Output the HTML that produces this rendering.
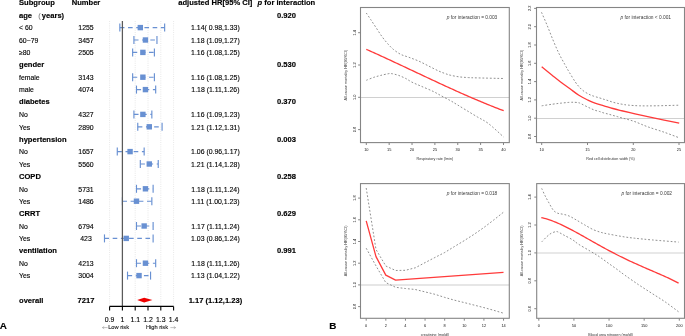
<!DOCTYPE html>
<html><head><meta charset="utf-8"><style>
html,body{margin:0;padding:0;background:#fff;width:685px;height:336px;overflow:hidden}
svg{display:block;will-change:transform;font-family:"Liberation Sans", sans-serif}
</style></head><body>
<svg width="685" height="336" viewBox="0 0 685 336" font-family='"Liberation Sans", sans-serif'>
<text transform="translate(19.00,5.10) scale(0.2500)" font-size="30.32" font-weight="bold" text-anchor="start" fill="#000" stroke="#000" stroke-width="0.6" >Subgroup</text>
<text transform="translate(86.00,5.10) scale(0.2500)" font-size="30.32" font-weight="bold" text-anchor="middle" fill="#000" stroke="#000" stroke-width="0.6" >Number</text>
<text transform="translate(215.30,5.10) scale(0.2500)" font-size="30.32" font-weight="bold" text-anchor="middle" fill="#000" stroke="#000" stroke-width="0.6" >adjusted HR[95% CI]</text>
<text transform="translate(286.4,5.10) scale(0.25)" font-size="30.32" font-weight="bold" text-anchor="middle" stroke="#000" stroke-width="0.6"><tspan font-style="italic">p</tspan> for interaction</text>
<line x1="109.60" y1="21.00" x2="109.60" y2="306.40" stroke="#d6d6d6" stroke-width="0.6" stroke-dasharray="1 1.2" />
<line x1="135.20" y1="21.00" x2="135.20" y2="306.40" stroke="#d6d6d6" stroke-width="0.6" stroke-dasharray="1 1.2" />
<line x1="148.00" y1="21.00" x2="148.00" y2="306.40" stroke="#d6d6d6" stroke-width="0.6" stroke-dasharray="1 1.2" />
<line x1="160.80" y1="21.00" x2="160.80" y2="306.40" stroke="#d6d6d6" stroke-width="0.6" stroke-dasharray="1 1.2" />
<line x1="173.60" y1="21.00" x2="173.60" y2="306.40" stroke="#d6d6d6" stroke-width="0.6" stroke-dasharray="1 1.2" />
<text transform="translate(19.00,17.50) scale(0.2500)" font-size="30.32" font-weight="bold" text-anchor="start" fill="#000" stroke="#000" stroke-width="0.6" >age</text>
<text transform="translate(38.20,17.90) scale(0.2500)" font-size="30.32" font-weight="normal" text-anchor="start" fill="#888" stroke="#888" stroke-width="0.5" >(</text>
<text transform="translate(41.80,17.50) scale(0.2500)" font-size="30.32" font-weight="bold" text-anchor="start" fill="#000" stroke="#000" stroke-width="0.6" >years)</text>
<text transform="translate(286.40,17.50) scale(0.2500)" font-size="30.32" font-weight="bold" text-anchor="middle" fill="#000" stroke="#000" stroke-width="0.6" >0.920</text>
<text transform="translate(19.00,30.30) scale(0.2500)" font-size="27.60" font-weight="normal" text-anchor="start" fill="#000" stroke="#000" stroke-width="0.5" >< 60</text>
<text transform="translate(86.00,30.30) scale(0.2500)" font-size="27.60" font-weight="normal" text-anchor="middle" fill="#000" stroke="#000" stroke-width="0.5" >1255</text>
<text transform="translate(215.40,30.30) scale(0.2500)" font-size="27.60" font-weight="normal" text-anchor="middle" fill="#000" stroke="#000" stroke-width="0.5" >1.14( 0.98,1.33)</text>
<line x1="119.84" y1="27.60" x2="164.64" y2="27.60" stroke="#6890d2" stroke-width="1.15" stroke-dasharray="4.6 3.6" />
<line x1="119.84" y1="23.60" x2="119.84" y2="31.60" stroke="#6890d2" stroke-width="1.15" />
<line x1="164.64" y1="23.60" x2="164.64" y2="31.60" stroke="#6890d2" stroke-width="1.15" />
<rect x="137.62" y="24.90" width="5.4" height="5.4" fill="#6890d2"/>
<text transform="translate(19.00,42.70) scale(0.2500)" font-size="27.60" font-weight="normal" text-anchor="start" fill="#000" stroke="#000" stroke-width="0.5" >60~79</text>
<text transform="translate(86.00,42.70) scale(0.2500)" font-size="27.60" font-weight="normal" text-anchor="middle" fill="#000" stroke="#000" stroke-width="0.5" >3457</text>
<text transform="translate(215.40,42.70) scale(0.2500)" font-size="27.60" font-weight="normal" text-anchor="middle" fill="#000" stroke="#000" stroke-width="0.5" >1.18 (1.09,1.27)</text>
<line x1="133.92" y1="40.00" x2="156.96" y2="40.00" stroke="#6890d2" stroke-width="1.15" stroke-dasharray="4.6 3.6" />
<line x1="133.92" y1="36.00" x2="133.92" y2="44.00" stroke="#6890d2" stroke-width="1.15" />
<line x1="156.96" y1="36.00" x2="156.96" y2="44.00" stroke="#6890d2" stroke-width="1.15" />
<rect x="142.74" y="37.30" width="5.4" height="5.4" fill="#6890d2"/>
<text transform="translate(19.00,55.10) scale(0.2500)" font-size="27.60" font-weight="normal" text-anchor="start" fill="#000" stroke="#000" stroke-width="0.5" >≥80</text>
<text transform="translate(86.00,55.10) scale(0.2500)" font-size="27.60" font-weight="normal" text-anchor="middle" fill="#000" stroke="#000" stroke-width="0.5" >2505</text>
<text transform="translate(215.40,55.10) scale(0.2500)" font-size="27.60" font-weight="normal" text-anchor="middle" fill="#000" stroke="#000" stroke-width="0.5" >1.16 (1.08,1.25)</text>
<line x1="132.64" y1="52.40" x2="154.40" y2="52.40" stroke="#6890d2" stroke-width="1.15" stroke-dasharray="4.6 3.6" />
<line x1="132.64" y1="48.40" x2="132.64" y2="56.40" stroke="#6890d2" stroke-width="1.15" />
<line x1="154.40" y1="48.40" x2="154.40" y2="56.40" stroke="#6890d2" stroke-width="1.15" />
<rect x="140.18" y="49.70" width="5.4" height="5.4" fill="#6890d2"/>
<text transform="translate(19.00,67.10) scale(0.2500)" font-size="30.32" font-weight="bold" text-anchor="start" fill="#000" stroke="#000" stroke-width="0.6" >gender</text>
<text transform="translate(286.40,67.10) scale(0.2500)" font-size="30.32" font-weight="bold" text-anchor="middle" fill="#000" stroke="#000" stroke-width="0.6" >0.530</text>
<text transform="translate(19.00,79.90) scale(0.2500)" font-size="27.60" font-weight="normal" text-anchor="start" fill="#000" stroke="#000" stroke-width="0.5" >female</text>
<text transform="translate(86.00,79.90) scale(0.2500)" font-size="27.60" font-weight="normal" text-anchor="middle" fill="#000" stroke="#000" stroke-width="0.5" >3143</text>
<text transform="translate(215.40,79.90) scale(0.2500)" font-size="27.60" font-weight="normal" text-anchor="middle" fill="#000" stroke="#000" stroke-width="0.5" >1.16 (1.08,1.25)</text>
<line x1="132.64" y1="77.20" x2="154.40" y2="77.20" stroke="#6890d2" stroke-width="1.15" stroke-dasharray="4.6 3.6" />
<line x1="132.64" y1="73.20" x2="132.64" y2="81.20" stroke="#6890d2" stroke-width="1.15" />
<line x1="154.40" y1="73.20" x2="154.40" y2="81.20" stroke="#6890d2" stroke-width="1.15" />
<rect x="140.18" y="74.50" width="5.4" height="5.4" fill="#6890d2"/>
<text transform="translate(19.00,92.30) scale(0.2500)" font-size="27.60" font-weight="normal" text-anchor="start" fill="#000" stroke="#000" stroke-width="0.5" >male</text>
<text transform="translate(86.00,92.30) scale(0.2500)" font-size="27.60" font-weight="normal" text-anchor="middle" fill="#000" stroke="#000" stroke-width="0.5" >4074</text>
<text transform="translate(215.40,92.30) scale(0.2500)" font-size="27.60" font-weight="normal" text-anchor="middle" fill="#000" stroke="#000" stroke-width="0.5" >1.18 (1.11,1.26)</text>
<line x1="136.48" y1="89.60" x2="155.68" y2="89.60" stroke="#6890d2" stroke-width="1.15" stroke-dasharray="4.6 3.6" />
<line x1="136.48" y1="85.60" x2="136.48" y2="93.60" stroke="#6890d2" stroke-width="1.15" />
<line x1="155.68" y1="85.60" x2="155.68" y2="93.60" stroke="#6890d2" stroke-width="1.15" />
<rect x="142.74" y="86.90" width="5.4" height="5.4" fill="#6890d2"/>
<text transform="translate(19.00,104.30) scale(0.2500)" font-size="30.32" font-weight="bold" text-anchor="start" fill="#000" stroke="#000" stroke-width="0.6" >diabetes</text>
<text transform="translate(286.40,104.30) scale(0.2500)" font-size="30.32" font-weight="bold" text-anchor="middle" fill="#000" stroke="#000" stroke-width="0.6" >0.370</text>
<text transform="translate(19.00,117.10) scale(0.2500)" font-size="27.60" font-weight="normal" text-anchor="start" fill="#000" stroke="#000" stroke-width="0.5" >No</text>
<text transform="translate(86.00,117.10) scale(0.2500)" font-size="27.60" font-weight="normal" text-anchor="middle" fill="#000" stroke="#000" stroke-width="0.5" >4327</text>
<text transform="translate(215.40,117.10) scale(0.2500)" font-size="27.60" font-weight="normal" text-anchor="middle" fill="#000" stroke="#000" stroke-width="0.5" >1.16 (1.09,1.23)</text>
<line x1="133.92" y1="114.40" x2="151.84" y2="114.40" stroke="#6890d2" stroke-width="1.15" stroke-dasharray="4.6 3.6" />
<line x1="133.92" y1="110.40" x2="133.92" y2="118.40" stroke="#6890d2" stroke-width="1.15" />
<line x1="151.84" y1="110.40" x2="151.84" y2="118.40" stroke="#6890d2" stroke-width="1.15" />
<rect x="140.18" y="111.70" width="5.4" height="5.4" fill="#6890d2"/>
<text transform="translate(19.00,129.50) scale(0.2500)" font-size="27.60" font-weight="normal" text-anchor="start" fill="#000" stroke="#000" stroke-width="0.5" >Yes</text>
<text transform="translate(86.00,129.50) scale(0.2500)" font-size="27.60" font-weight="normal" text-anchor="middle" fill="#000" stroke="#000" stroke-width="0.5" >2890</text>
<text transform="translate(215.40,129.50) scale(0.2500)" font-size="27.60" font-weight="normal" text-anchor="middle" fill="#000" stroke="#000" stroke-width="0.5" >1.21 (1.12,1.31)</text>
<line x1="137.76" y1="126.80" x2="162.08" y2="126.80" stroke="#6890d2" stroke-width="1.15" stroke-dasharray="4.6 3.6" />
<line x1="137.76" y1="122.80" x2="137.76" y2="130.80" stroke="#6890d2" stroke-width="1.15" />
<line x1="162.08" y1="122.80" x2="162.08" y2="130.80" stroke="#6890d2" stroke-width="1.15" />
<rect x="146.58" y="124.10" width="5.4" height="5.4" fill="#6890d2"/>
<text transform="translate(19.00,141.50) scale(0.2500)" font-size="30.32" font-weight="bold" text-anchor="start" fill="#000" stroke="#000" stroke-width="0.6" >hypertension</text>
<text transform="translate(286.40,141.50) scale(0.2500)" font-size="30.32" font-weight="bold" text-anchor="middle" fill="#000" stroke="#000" stroke-width="0.6" >0.003</text>
<text transform="translate(19.00,154.30) scale(0.2500)" font-size="27.60" font-weight="normal" text-anchor="start" fill="#000" stroke="#000" stroke-width="0.5" >No</text>
<text transform="translate(86.00,154.30) scale(0.2500)" font-size="27.60" font-weight="normal" text-anchor="middle" fill="#000" stroke="#000" stroke-width="0.5" >1657</text>
<text transform="translate(215.40,154.30) scale(0.2500)" font-size="27.60" font-weight="normal" text-anchor="middle" fill="#000" stroke="#000" stroke-width="0.5" >1.06 (0.96,1.17)</text>
<line x1="117.28" y1="151.60" x2="144.16" y2="151.60" stroke="#6890d2" stroke-width="1.15" stroke-dasharray="4.6 3.6" />
<line x1="117.28" y1="147.60" x2="117.28" y2="155.60" stroke="#6890d2" stroke-width="1.15" />
<line x1="144.16" y1="147.60" x2="144.16" y2="155.60" stroke="#6890d2" stroke-width="1.15" />
<rect x="127.38" y="148.90" width="5.4" height="5.4" fill="#6890d2"/>
<text transform="translate(19.00,166.70) scale(0.2500)" font-size="27.60" font-weight="normal" text-anchor="start" fill="#000" stroke="#000" stroke-width="0.5" >Yes</text>
<text transform="translate(86.00,166.70) scale(0.2500)" font-size="27.60" font-weight="normal" text-anchor="middle" fill="#000" stroke="#000" stroke-width="0.5" >5560</text>
<text transform="translate(215.40,166.70) scale(0.2500)" font-size="27.60" font-weight="normal" text-anchor="middle" fill="#000" stroke="#000" stroke-width="0.5" >1.21 (1.14,1.28)</text>
<line x1="140.32" y1="164.00" x2="158.24" y2="164.00" stroke="#6890d2" stroke-width="1.15" stroke-dasharray="4.6 3.6" />
<line x1="140.32" y1="160.00" x2="140.32" y2="168.00" stroke="#6890d2" stroke-width="1.15" />
<line x1="158.24" y1="160.00" x2="158.24" y2="168.00" stroke="#6890d2" stroke-width="1.15" />
<rect x="146.58" y="161.30" width="5.4" height="5.4" fill="#6890d2"/>
<text transform="translate(19.00,178.70) scale(0.2500)" font-size="30.32" font-weight="bold" text-anchor="start" fill="#000" stroke="#000" stroke-width="0.6" >COPD</text>
<text transform="translate(286.40,178.70) scale(0.2500)" font-size="30.32" font-weight="bold" text-anchor="middle" fill="#000" stroke="#000" stroke-width="0.6" >0.258</text>
<text transform="translate(19.00,191.50) scale(0.2500)" font-size="27.60" font-weight="normal" text-anchor="start" fill="#000" stroke="#000" stroke-width="0.5" >No</text>
<text transform="translate(86.00,191.50) scale(0.2500)" font-size="27.60" font-weight="normal" text-anchor="middle" fill="#000" stroke="#000" stroke-width="0.5" >5731</text>
<text transform="translate(215.40,191.50) scale(0.2500)" font-size="27.60" font-weight="normal" text-anchor="middle" fill="#000" stroke="#000" stroke-width="0.5" >1.18 (1.11,1.24)</text>
<line x1="136.48" y1="188.80" x2="153.12" y2="188.80" stroke="#6890d2" stroke-width="1.15" stroke-dasharray="4.6 3.6" />
<line x1="136.48" y1="184.80" x2="136.48" y2="192.80" stroke="#6890d2" stroke-width="1.15" />
<line x1="153.12" y1="184.80" x2="153.12" y2="192.80" stroke="#6890d2" stroke-width="1.15" />
<rect x="142.74" y="186.10" width="5.4" height="5.4" fill="#6890d2"/>
<text transform="translate(19.00,203.90) scale(0.2500)" font-size="27.60" font-weight="normal" text-anchor="start" fill="#000" stroke="#000" stroke-width="0.5" >Yes</text>
<text transform="translate(86.00,203.90) scale(0.2500)" font-size="27.60" font-weight="normal" text-anchor="middle" fill="#000" stroke="#000" stroke-width="0.5" >1486</text>
<text transform="translate(215.40,203.90) scale(0.2500)" font-size="27.60" font-weight="normal" text-anchor="middle" fill="#000" stroke="#000" stroke-width="0.5" >1.11 (1.00,1.23)</text>
<line x1="122.40" y1="201.20" x2="151.84" y2="201.20" stroke="#6890d2" stroke-width="1.15" stroke-dasharray="4.6 3.6" />
<line x1="122.40" y1="197.20" x2="122.40" y2="205.20" stroke="#6890d2" stroke-width="1.15" />
<line x1="151.84" y1="197.20" x2="151.84" y2="205.20" stroke="#6890d2" stroke-width="1.15" />
<rect x="133.78" y="198.50" width="5.4" height="5.4" fill="#6890d2"/>
<text transform="translate(19.00,215.90) scale(0.2500)" font-size="30.32" font-weight="bold" text-anchor="start" fill="#000" stroke="#000" stroke-width="0.6" >CRRT</text>
<text transform="translate(286.40,215.90) scale(0.2500)" font-size="30.32" font-weight="bold" text-anchor="middle" fill="#000" stroke="#000" stroke-width="0.6" >0.629</text>
<text transform="translate(19.00,228.70) scale(0.2500)" font-size="27.60" font-weight="normal" text-anchor="start" fill="#000" stroke="#000" stroke-width="0.5" >No</text>
<text transform="translate(86.00,228.70) scale(0.2500)" font-size="27.60" font-weight="normal" text-anchor="middle" fill="#000" stroke="#000" stroke-width="0.5" >6794</text>
<text transform="translate(215.40,228.70) scale(0.2500)" font-size="27.60" font-weight="normal" text-anchor="middle" fill="#000" stroke="#000" stroke-width="0.5" >1.17 (1.11,1.24)</text>
<line x1="136.48" y1="226.00" x2="153.12" y2="226.00" stroke="#6890d2" stroke-width="1.15" stroke-dasharray="4.6 3.6" />
<line x1="136.48" y1="222.00" x2="136.48" y2="230.00" stroke="#6890d2" stroke-width="1.15" />
<line x1="153.12" y1="222.00" x2="153.12" y2="230.00" stroke="#6890d2" stroke-width="1.15" />
<rect x="141.46" y="223.30" width="5.4" height="5.4" fill="#6890d2"/>
<text transform="translate(19.00,241.10) scale(0.2500)" font-size="27.60" font-weight="normal" text-anchor="start" fill="#000" stroke="#000" stroke-width="0.5" >Yes</text>
<text transform="translate(86.00,241.10) scale(0.2500)" font-size="27.60" font-weight="normal" text-anchor="middle" fill="#000" stroke="#000" stroke-width="0.5" >423</text>
<text transform="translate(215.40,241.10) scale(0.2500)" font-size="27.60" font-weight="normal" text-anchor="middle" fill="#000" stroke="#000" stroke-width="0.5" >1.03 (0.86,1.24)</text>
<line x1="104.48" y1="238.40" x2="153.12" y2="238.40" stroke="#6890d2" stroke-width="1.15" stroke-dasharray="4.6 3.6" />
<line x1="104.48" y1="234.40" x2="104.48" y2="242.40" stroke="#6890d2" stroke-width="1.15" />
<line x1="153.12" y1="234.40" x2="153.12" y2="242.40" stroke="#6890d2" stroke-width="1.15" />
<rect x="123.54" y="235.70" width="5.4" height="5.4" fill="#6890d2"/>
<text transform="translate(19.00,253.10) scale(0.2500)" font-size="30.32" font-weight="bold" text-anchor="start" fill="#000" stroke="#000" stroke-width="0.6" >ventilation</text>
<text transform="translate(286.40,253.10) scale(0.2500)" font-size="30.32" font-weight="bold" text-anchor="middle" fill="#000" stroke="#000" stroke-width="0.6" >0.991</text>
<text transform="translate(19.00,265.90) scale(0.2500)" font-size="27.60" font-weight="normal" text-anchor="start" fill="#000" stroke="#000" stroke-width="0.5" >No</text>
<text transform="translate(86.00,265.90) scale(0.2500)" font-size="27.60" font-weight="normal" text-anchor="middle" fill="#000" stroke="#000" stroke-width="0.5" >4213</text>
<text transform="translate(215.40,265.90) scale(0.2500)" font-size="27.60" font-weight="normal" text-anchor="middle" fill="#000" stroke="#000" stroke-width="0.5" >1.18 (1.11,1.26)</text>
<line x1="136.48" y1="263.20" x2="155.68" y2="263.20" stroke="#6890d2" stroke-width="1.15" stroke-dasharray="4.6 3.6" />
<line x1="136.48" y1="259.20" x2="136.48" y2="267.20" stroke="#6890d2" stroke-width="1.15" />
<line x1="155.68" y1="259.20" x2="155.68" y2="267.20" stroke="#6890d2" stroke-width="1.15" />
<rect x="142.74" y="260.50" width="5.4" height="5.4" fill="#6890d2"/>
<text transform="translate(19.00,278.30) scale(0.2500)" font-size="27.60" font-weight="normal" text-anchor="start" fill="#000" stroke="#000" stroke-width="0.5" >Yes</text>
<text transform="translate(86.00,278.30) scale(0.2500)" font-size="27.60" font-weight="normal" text-anchor="middle" fill="#000" stroke="#000" stroke-width="0.5" >3004</text>
<text transform="translate(215.40,278.30) scale(0.2500)" font-size="27.60" font-weight="normal" text-anchor="middle" fill="#000" stroke="#000" stroke-width="0.5" >1.13 (1.04,1.22)</text>
<line x1="127.52" y1="275.60" x2="150.56" y2="275.60" stroke="#6890d2" stroke-width="1.15" stroke-dasharray="4.6 3.6" />
<line x1="127.52" y1="271.60" x2="127.52" y2="279.60" stroke="#6890d2" stroke-width="1.15" />
<line x1="150.56" y1="271.60" x2="150.56" y2="279.60" stroke="#6890d2" stroke-width="1.15" />
<rect x="136.34" y="272.90" width="5.4" height="5.4" fill="#6890d2"/>
<text transform="translate(19.00,302.70) scale(0.2500)" font-size="30.32" font-weight="bold" text-anchor="start" fill="#000" stroke="#000" stroke-width="0.6" >overall</text>
<text transform="translate(86.00,302.70) scale(0.2500)" font-size="30.32" font-weight="bold" text-anchor="middle" fill="#000" stroke="#000" stroke-width="0.6" >7217</text>
<text transform="translate(215.40,302.70) scale(0.2500)" font-size="30.32" font-weight="bold" text-anchor="middle" fill="#000" stroke="#000" stroke-width="0.6" >1.17 (1.12,1.23)</text>
<polygon points="137.16,300.10 144.16,297.80 152.44,300.10 144.16,302.40" fill="#ee0000"/>
<line x1="122.40" y1="21.00" x2="122.40" y2="306.40" stroke="#5a5a5a" stroke-width="1.25" />
<line x1="109.60" y1="306.40" x2="173.60" y2="306.40" stroke="#000" stroke-width="1.1" />
<line x1="109.60" y1="306.40" x2="109.60" y2="310.40" stroke="#000" stroke-width="1.1" />
<text transform="translate(109.60,321.80) scale(0.2500)" font-size="27.60" font-weight="normal" text-anchor="middle" fill="#000" stroke="#000" stroke-width="0.5" >0.9</text>
<line x1="122.40" y1="306.40" x2="122.40" y2="310.40" stroke="#000" stroke-width="1.1" />
<text transform="translate(122.40,321.80) scale(0.2500)" font-size="27.60" font-weight="normal" text-anchor="middle" fill="#000" stroke="#000" stroke-width="0.5" >1</text>
<line x1="135.20" y1="306.40" x2="135.20" y2="310.40" stroke="#000" stroke-width="1.1" />
<text transform="translate(135.20,321.80) scale(0.2500)" font-size="27.60" font-weight="normal" text-anchor="middle" fill="#000" stroke="#000" stroke-width="0.5" >1.1</text>
<line x1="148.00" y1="306.40" x2="148.00" y2="310.40" stroke="#000" stroke-width="1.1" />
<text transform="translate(148.00,321.80) scale(0.2500)" font-size="27.60" font-weight="normal" text-anchor="middle" fill="#000" stroke="#000" stroke-width="0.5" >1.2</text>
<line x1="160.80" y1="306.40" x2="160.80" y2="310.40" stroke="#000" stroke-width="1.1" />
<text transform="translate(160.80,321.80) scale(0.2500)" font-size="27.60" font-weight="normal" text-anchor="middle" fill="#000" stroke="#000" stroke-width="0.5" >1.3</text>
<line x1="173.60" y1="306.40" x2="173.60" y2="310.40" stroke="#000" stroke-width="1.1" />
<text transform="translate(173.60,321.80) scale(0.2500)" font-size="27.60" font-weight="normal" text-anchor="middle" fill="#000" stroke="#000" stroke-width="0.5" >1.4</text>
<text transform="translate(108.20,329.30) scale(0.2500)" font-size="22.80" font-weight="normal" text-anchor="start" fill="#222" stroke="#222" stroke-width="0.5" >Low risk</text>
<text transform="translate(145.90,329.30) scale(0.2500)" font-size="22.80" font-weight="normal" text-anchor="start" fill="#222" stroke="#222" stroke-width="0.5" >High risk</text>
<line x1="102.40" y1="327.60" x2="107.60" y2="327.60" stroke="#999" stroke-width="0.6" />
<path d="M104.2,326.4 L102.4,327.6 L104.2,328.8" fill="none" stroke="#999" stroke-width="0.6"/>
<line x1="170.40" y1="327.60" x2="175.60" y2="327.60" stroke="#999" stroke-width="0.6" />
<path d="M173.8,326.4 L175.6,327.6 L173.8,328.8" fill="none" stroke="#999" stroke-width="0.6"/>
<text transform="translate(-0.20,329.00) scale(0.2500)" font-size="39.60" font-weight="bold" text-anchor="start" fill="#000" stroke="#000" stroke-width="0.6" >A</text>
<text transform="translate(329.30,329.20) scale(0.2500)" font-size="39.60" font-weight="bold" text-anchor="start" fill="#000" stroke="#000" stroke-width="0.6" >B</text>
<line x1="360.50" y1="97.50" x2="509.30" y2="97.50" stroke="#d0d0d0" stroke-width="1.0" />
<path d="M366.30,13.00 C367.02,14.07 368.93,16.90 370.60,19.40 C372.27,21.90 374.40,25.13 376.30,28.00 C378.20,30.87 380.10,33.98 382.00,36.60 C383.90,39.22 385.80,41.57 387.70,43.70 C389.60,45.83 391.25,47.63 393.40,49.40 C395.55,51.17 398.02,52.98 400.60,54.30 C403.18,55.62 405.88,56.17 408.90,57.30 C411.92,58.43 415.47,59.65 418.75,61.10 C422.03,62.55 425.33,64.37 428.60,66.00 C431.88,67.63 435.67,69.65 438.40,70.90 C441.13,72.15 442.95,72.77 445.00,73.50 C447.05,74.23 448.27,74.73 450.70,75.30 C453.13,75.87 456.62,76.52 459.60,76.90 C462.58,77.28 465.65,77.43 468.60,77.60 C471.55,77.77 471.47,77.75 477.30,77.90 C483.13,78.05 499.22,78.40 503.60,78.50" fill="none" stroke="#838383" stroke-width="0.9" stroke-dasharray="1.8 1.9"/>
<path d="M366.30,80.30 C367.52,79.82 371.19,78.22 373.60,77.40 C376.01,76.58 378.37,76.00 380.75,75.40 C383.13,74.80 386.11,74.10 387.90,73.80 C389.69,73.50 389.72,73.33 391.50,73.60 C393.28,73.87 396.23,74.58 398.60,75.40 C400.98,76.22 403.52,77.37 405.75,78.50 C407.98,79.63 409.48,80.93 412.00,82.20 C414.52,83.47 417.42,84.58 420.90,86.10 C424.38,87.62 429.42,89.63 432.90,91.30 C436.38,92.97 438.83,94.52 441.80,96.10 C444.77,97.68 448.17,99.38 450.70,100.80 C453.23,102.22 454.42,103.03 457.00,104.60 C459.58,106.17 462.82,108.15 466.20,110.20 C469.58,112.25 473.58,114.67 477.30,116.90 C481.02,119.13 484.12,120.25 488.50,123.60 C492.88,126.95 501.08,134.77 503.60,137.00" fill="none" stroke="#838383" stroke-width="0.9" stroke-dasharray="1.8 1.9"/>
<path d="M366.30,49.34 L367.79,50.01 L369.29,50.67 L370.78,51.34 L372.27,52.01 L373.77,52.68 L375.26,53.36 L376.75,54.03 L378.25,54.71 L379.74,55.39 L381.23,56.07 L382.73,56.76 L384.22,57.44 L385.72,58.13 L387.21,58.82 L388.70,59.51 L390.20,60.20 L391.69,60.90 L393.18,61.59 L394.68,62.29 L396.17,62.98 L397.66,63.68 L399.16,64.38 L400.65,65.08 L402.14,65.78 L403.64,66.48 L405.13,67.18 L406.62,67.88 L408.12,68.59 L409.61,69.29 L411.10,69.99 L412.60,70.70 L414.09,71.40 L415.58,72.10 L417.08,72.81 L418.57,73.51 L420.07,74.21 L421.56,74.91 L423.05,75.62 L424.55,76.32 L426.04,77.02 L427.53,77.72 L429.03,78.42 L430.52,79.12 L432.01,79.82 L433.51,80.51 L435.00,81.21 L436.49,81.90 L437.99,82.60 L439.48,83.29 L440.97,83.98 L442.47,84.67 L443.96,85.36 L445.45,86.05 L446.95,86.73 L448.44,87.42 L449.93,88.10 L451.43,88.78 L452.92,89.45 L454.42,90.13 L455.91,90.80 L457.40,91.47 L458.90,92.14 L460.39,92.81 L461.88,93.47 L463.38,94.13 L464.87,94.79 L466.36,95.45 L467.86,96.10 L469.35,96.75 L470.84,97.40 L472.34,98.04 L473.83,98.68 L475.32,99.32 L476.82,99.95 L478.31,100.59 L479.80,101.21 L481.30,101.84 L482.79,102.46 L484.28,103.07 L485.78,103.69 L487.27,104.30 L488.77,104.90 L490.26,105.50 L491.75,106.10 L493.25,106.69 L494.74,107.28 L496.23,107.87 L497.73,108.45 L499.22,109.02 L500.71,109.59 L502.21,110.16 L503.70,110.72" fill="none" stroke="#ff3a3a" stroke-width="1.3" stroke-linejoin="round"/>
<rect x="360.5" y="7.5" width="148.8" height="135.1" fill="none" stroke="#858585" stroke-width="1.1"/>
<line x1="366.30" y1="143.00" x2="366.30" y2="145.00" stroke="#666" stroke-width="0.8" />
<text transform="translate(366.30,151.10) scale(0.2500)" font-size="15.60" font-weight="normal" text-anchor="middle" fill="#111" >10</text>
<line x1="389.17" y1="143.00" x2="389.17" y2="145.00" stroke="#666" stroke-width="0.8" />
<text transform="translate(389.17,151.10) scale(0.2500)" font-size="15.60" font-weight="normal" text-anchor="middle" fill="#111" >15</text>
<line x1="412.03" y1="143.00" x2="412.03" y2="145.00" stroke="#666" stroke-width="0.8" />
<text transform="translate(412.03,151.10) scale(0.2500)" font-size="15.60" font-weight="normal" text-anchor="middle" fill="#111" >20</text>
<line x1="434.89" y1="143.00" x2="434.89" y2="145.00" stroke="#666" stroke-width="0.8" />
<text transform="translate(434.89,151.10) scale(0.2500)" font-size="15.60" font-weight="normal" text-anchor="middle" fill="#111" >25</text>
<line x1="457.76" y1="143.00" x2="457.76" y2="145.00" stroke="#666" stroke-width="0.8" />
<text transform="translate(457.76,151.10) scale(0.2500)" font-size="15.60" font-weight="normal" text-anchor="middle" fill="#111" >30</text>
<line x1="480.62" y1="143.00" x2="480.62" y2="145.00" stroke="#666" stroke-width="0.8" />
<text transform="translate(480.62,151.10) scale(0.2500)" font-size="15.60" font-weight="normal" text-anchor="middle" fill="#111" >35</text>
<line x1="503.49" y1="143.00" x2="503.49" y2="145.00" stroke="#666" stroke-width="0.8" />
<text transform="translate(503.49,151.10) scale(0.2500)" font-size="15.60" font-weight="normal" text-anchor="middle" fill="#111" >40</text>
<line x1="358.10" y1="129.60" x2="360.10" y2="129.60" stroke="#666" stroke-width="0.8" />
<text transform="translate(355.70,129.60) rotate(-90) scale(0.25)" font-size="15.6" text-anchor="middle" fill="#111">0.8</text>
<line x1="358.10" y1="97.30" x2="360.10" y2="97.30" stroke="#666" stroke-width="0.8" />
<text transform="translate(355.70,97.30) rotate(-90) scale(0.25)" font-size="15.6" text-anchor="middle" fill="#111">1.0</text>
<line x1="358.10" y1="65.00" x2="360.10" y2="65.00" stroke="#666" stroke-width="0.8" />
<text transform="translate(355.70,65.00) rotate(-90) scale(0.25)" font-size="15.6" text-anchor="middle" fill="#111">1.2</text>
<line x1="358.10" y1="32.70" x2="360.10" y2="32.70" stroke="#666" stroke-width="0.8" />
<text transform="translate(355.70,32.70) rotate(-90) scale(0.25)" font-size="15.6" text-anchor="middle" fill="#111">1.4</text>
<text transform="translate(434.90,159.80) scale(0.2500)" font-size="14.80" font-weight="normal" text-anchor="middle" fill="#333" >Respiratory rate (/min)</text>
<text transform="translate(347.00,75.05) rotate(-90) scale(0.25)" font-size="15.04" text-anchor="middle" fill="#333">All-cause mortality HR(95%CI)</text>
<text transform="translate(497.30,18.80) scale(0.25)" font-size="19.2" text-anchor="end" fill="#3a3a3a"><tspan font-style="italic">p</tspan> for interaction = 0.003</text>
<line x1="536.50" y1="118.50" x2="684.50" y2="118.50" stroke="#d0d0d0" stroke-width="1.0" />
<path d="M541.50,12.30 C542.42,14.42 545.08,20.38 547.00,25.00 C548.92,29.62 551.02,35.27 553.00,40.00 C554.98,44.73 556.92,49.30 558.90,53.40 C560.88,57.50 563.17,61.45 564.90,64.60 C566.63,67.75 567.55,69.38 569.30,72.30 C571.05,75.22 573.80,79.72 575.40,82.10 C577.00,84.48 577.72,85.25 578.90,86.60 C580.08,87.95 581.00,89.01 582.50,90.20 C584.00,91.39 586.12,92.78 587.90,93.75 C589.68,94.72 591.27,95.31 593.20,96.00 C595.13,96.69 597.72,97.35 599.50,97.90 C601.28,98.45 602.42,98.83 603.90,99.30 C605.38,99.77 606.90,100.22 608.40,100.70 C609.90,101.18 611.42,101.77 612.90,102.20 C614.38,102.63 615.82,102.97 617.30,103.30 C618.78,103.63 620.02,103.90 621.80,104.20 C623.58,104.50 625.05,104.83 628.00,105.10 C630.95,105.37 634.85,105.68 639.50,105.80 C644.15,105.92 649.28,105.90 655.90,105.80 C662.52,105.70 675.32,105.30 679.20,105.20" fill="none" stroke="#838383" stroke-width="0.9" stroke-dasharray="1.8 1.9"/>
<path d="M541.70,105.80 C543.48,105.53 549.25,104.63 552.40,104.20 C555.55,103.77 557.87,103.50 560.60,103.20 C563.33,102.90 566.48,102.55 568.80,102.40 C571.12,102.25 572.82,102.23 574.50,102.30 C576.18,102.37 577.72,102.52 578.90,102.80 C580.08,103.08 580.28,103.37 581.60,104.00 C582.92,104.63 585.27,105.85 586.80,106.60 C588.33,107.35 589.43,107.88 590.80,108.50 C592.17,109.12 593.55,109.80 595.00,110.30 C596.45,110.80 598.02,111.05 599.50,111.50 C600.98,111.95 602.42,112.57 603.90,113.00 C605.38,113.43 606.90,113.70 608.40,114.10 C609.90,114.50 611.42,114.98 612.90,115.40 C614.38,115.82 615.82,116.18 617.30,116.60 C618.78,117.02 620.31,117.49 621.80,117.90 C623.29,118.31 624.05,118.42 626.25,119.05 C628.45,119.68 631.42,120.41 635.00,121.70 C638.58,122.99 642.85,125.05 647.70,126.80 C652.55,128.55 658.85,130.37 664.10,132.20 C669.35,134.03 676.68,136.87 679.20,137.80" fill="none" stroke="#838383" stroke-width="0.9" stroke-dasharray="1.8 1.9"/>
<path d="M541.70,66.80 C543.48,68.25 549.25,72.97 552.40,75.50 C555.55,78.03 557.67,79.78 560.60,82.00 C563.53,84.22 566.95,86.58 570.00,88.80 C573.05,91.02 575.92,93.42 578.90,95.30 C581.88,97.18 585.22,98.78 587.90,100.10 C590.58,101.42 592.33,102.25 595.00,103.20 C597.67,104.15 600.92,104.92 603.90,105.80 C606.88,106.68 609.92,107.67 612.90,108.50 C615.88,109.33 618.12,109.85 621.80,110.75 C625.48,111.65 630.68,112.91 635.00,113.90 C639.32,114.89 642.85,115.67 647.70,116.70 C652.55,117.73 658.85,119.02 664.10,120.10 C669.35,121.18 676.68,122.68 679.20,123.20" fill="none" stroke="#ff3a3a" stroke-width="1.3" stroke-linejoin="round"/>
<rect x="536.5" y="7.5" width="148.0" height="135.1" fill="none" stroke="#858585" stroke-width="1.1"/>
<line x1="541.70" y1="143.00" x2="541.70" y2="145.00" stroke="#666" stroke-width="0.8" />
<text transform="translate(541.70,151.10) scale(0.2500)" font-size="15.60" font-weight="normal" text-anchor="middle" fill="#111" >10</text>
<line x1="587.50" y1="143.00" x2="587.50" y2="145.00" stroke="#666" stroke-width="0.8" />
<text transform="translate(587.50,151.10) scale(0.2500)" font-size="15.60" font-weight="normal" text-anchor="middle" fill="#111" >15</text>
<line x1="633.30" y1="143.00" x2="633.30" y2="145.00" stroke="#666" stroke-width="0.8" />
<text transform="translate(633.30,151.10) scale(0.2500)" font-size="15.60" font-weight="normal" text-anchor="middle" fill="#111" >20</text>
<line x1="679.00" y1="143.00" x2="679.00" y2="145.00" stroke="#666" stroke-width="0.8" />
<text transform="translate(679.00,151.10) scale(0.2500)" font-size="15.60" font-weight="normal" text-anchor="middle" fill="#111" >25</text>
<line x1="534.10" y1="136.50" x2="536.10" y2="136.50" stroke="#666" stroke-width="0.8" />
<text transform="translate(530.70,136.50) rotate(-90) scale(0.25)" font-size="15.6" text-anchor="middle" fill="#111">0.8</text>
<line x1="534.10" y1="118.20" x2="536.10" y2="118.20" stroke="#666" stroke-width="0.8" />
<text transform="translate(530.70,118.20) rotate(-90) scale(0.25)" font-size="15.6" text-anchor="middle" fill="#111">1.0</text>
<line x1="534.10" y1="99.90" x2="536.10" y2="99.90" stroke="#666" stroke-width="0.8" />
<text transform="translate(530.70,99.90) rotate(-90) scale(0.25)" font-size="15.6" text-anchor="middle" fill="#111">1.2</text>
<line x1="534.10" y1="81.60" x2="536.10" y2="81.60" stroke="#666" stroke-width="0.8" />
<text transform="translate(530.70,81.60) rotate(-90) scale(0.25)" font-size="15.6" text-anchor="middle" fill="#111">1.4</text>
<line x1="534.10" y1="63.30" x2="536.10" y2="63.30" stroke="#666" stroke-width="0.8" />
<text transform="translate(530.70,63.30) rotate(-90) scale(0.25)" font-size="15.6" text-anchor="middle" fill="#111">1.6</text>
<line x1="534.10" y1="45.00" x2="536.10" y2="45.00" stroke="#666" stroke-width="0.8" />
<text transform="translate(530.70,45.00) rotate(-90) scale(0.25)" font-size="15.6" text-anchor="middle" fill="#111">1.8</text>
<line x1="534.10" y1="26.70" x2="536.10" y2="26.70" stroke="#666" stroke-width="0.8" />
<text transform="translate(530.70,26.70) rotate(-90) scale(0.25)" font-size="15.6" text-anchor="middle" fill="#111">2.0</text>
<line x1="534.10" y1="8.40" x2="536.10" y2="8.40" stroke="#666" stroke-width="0.8" />
<text transform="translate(530.70,8.40) rotate(-90) scale(0.25)" font-size="15.6" text-anchor="middle" fill="#111">2.2</text>
<text transform="translate(610.50,159.80) scale(0.2500)" font-size="14.80" font-weight="normal" text-anchor="middle" fill="#333" >Red cell distribution width (%)</text>
<text transform="translate(523.00,75.05) rotate(-90) scale(0.25)" font-size="15.04" text-anchor="middle" fill="#333">All-cause mortality HR(95%CI)</text>
<text transform="translate(671.00,18.80) scale(0.25)" font-size="19.2" text-anchor="end" fill="#3a3a3a"><tspan font-style="italic">p</tspan> for interaction &lt; 0.001</text>
<line x1="360.50" y1="285.00" x2="509.30" y2="285.00" stroke="#e6e6e6" stroke-width="2.0" />
<path d="M366.20,188.00 L376.00,249.50 L385.80,266.00 L395.60,270.50 L405.40,270.30 L415.30,267.80 L425.10,262.60 L434.90,257.50 L444.70,252.50 L454.50,246.50 L464.30,240.60 L474.10,234.30 L483.90,227.50 L493.70,220.00 L503.50,212.20" fill="none" stroke="#838383" stroke-width="0.9" stroke-dasharray="1.8 1.9"/>
<path d="M366.20,248.20 L376.00,265.90 L385.80,282.60 L395.60,287.30 L405.40,288.50 L415.30,289.50 L425.10,291.90 L434.90,294.30 L444.70,297.40 L454.50,300.20 L464.30,302.60 L474.10,305.10 L483.90,307.60 L493.70,310.30 L503.50,313.20" fill="none" stroke="#838383" stroke-width="0.9" stroke-dasharray="1.8 1.9"/>
<path d="M366.20,220.90 L376.00,256.60 L385.80,275.10 L395.60,280.20 L503.50,272.40" fill="none" stroke="#ff3a3a" stroke-width="1.3" stroke-linejoin="round"/>
<rect x="360.5" y="183.6" width="148.8" height="134.70000000000002" fill="none" stroke="#858585" stroke-width="1.1"/>
<line x1="366.20" y1="318.70" x2="366.20" y2="320.70" stroke="#666" stroke-width="0.8" />
<text transform="translate(366.20,326.80) scale(0.2500)" font-size="15.60" font-weight="normal" text-anchor="middle" fill="#111" >0</text>
<line x1="385.82" y1="318.70" x2="385.82" y2="320.70" stroke="#666" stroke-width="0.8" />
<text transform="translate(385.82,326.80) scale(0.2500)" font-size="15.60" font-weight="normal" text-anchor="middle" fill="#111" >2</text>
<line x1="405.44" y1="318.70" x2="405.44" y2="320.70" stroke="#666" stroke-width="0.8" />
<text transform="translate(405.44,326.80) scale(0.2500)" font-size="15.60" font-weight="normal" text-anchor="middle" fill="#111" >4</text>
<line x1="425.06" y1="318.70" x2="425.06" y2="320.70" stroke="#666" stroke-width="0.8" />
<text transform="translate(425.06,326.80) scale(0.2500)" font-size="15.60" font-weight="normal" text-anchor="middle" fill="#111" >6</text>
<line x1="444.68" y1="318.70" x2="444.68" y2="320.70" stroke="#666" stroke-width="0.8" />
<text transform="translate(444.68,326.80) scale(0.2500)" font-size="15.60" font-weight="normal" text-anchor="middle" fill="#111" >8</text>
<line x1="464.30" y1="318.70" x2="464.30" y2="320.70" stroke="#666" stroke-width="0.8" />
<text transform="translate(464.30,326.80) scale(0.2500)" font-size="15.60" font-weight="normal" text-anchor="middle" fill="#111" >10</text>
<line x1="483.92" y1="318.70" x2="483.92" y2="320.70" stroke="#666" stroke-width="0.8" />
<text transform="translate(483.92,326.80) scale(0.2500)" font-size="15.60" font-weight="normal" text-anchor="middle" fill="#111" >12</text>
<line x1="503.54" y1="318.70" x2="503.54" y2="320.70" stroke="#666" stroke-width="0.8" />
<text transform="translate(503.54,326.80) scale(0.2500)" font-size="15.60" font-weight="normal" text-anchor="middle" fill="#111" >14</text>
<line x1="358.10" y1="306.60" x2="360.10" y2="306.60" stroke="#666" stroke-width="0.8" />
<text transform="translate(355.70,306.60) rotate(-90) scale(0.25)" font-size="15.6" text-anchor="middle" fill="#111">0.8</text>
<line x1="358.10" y1="284.90" x2="360.10" y2="284.90" stroke="#666" stroke-width="0.8" />
<text transform="translate(355.70,284.90) rotate(-90) scale(0.25)" font-size="15.6" text-anchor="middle" fill="#111">1.0</text>
<line x1="358.10" y1="263.20" x2="360.10" y2="263.20" stroke="#666" stroke-width="0.8" />
<text transform="translate(355.70,263.20) rotate(-90) scale(0.25)" font-size="15.6" text-anchor="middle" fill="#111">1.2</text>
<line x1="358.10" y1="241.50" x2="360.10" y2="241.50" stroke="#666" stroke-width="0.8" />
<text transform="translate(355.70,241.50) rotate(-90) scale(0.25)" font-size="15.6" text-anchor="middle" fill="#111">1.4</text>
<line x1="358.10" y1="219.80" x2="360.10" y2="219.80" stroke="#666" stroke-width="0.8" />
<text transform="translate(355.70,219.80) rotate(-90) scale(0.25)" font-size="15.6" text-anchor="middle" fill="#111">1.6</text>
<line x1="358.10" y1="198.10" x2="360.10" y2="198.10" stroke="#666" stroke-width="0.8" />
<text transform="translate(355.70,198.10) rotate(-90) scale(0.25)" font-size="15.6" text-anchor="middle" fill="#111">1.8</text>
<text transform="translate(434.90,335.50) scale(0.2500)" font-size="14.80" font-weight="normal" text-anchor="middle" fill="#333" >creatinine (mg/dl)</text>
<text transform="translate(347.00,250.95) rotate(-90) scale(0.25)" font-size="15.04" text-anchor="middle" fill="#333">All-cause mortality HR(95%CI)</text>
<text transform="translate(497.30,194.90) scale(0.25)" font-size="19.2" text-anchor="end" fill="#3a3a3a"><tspan font-style="italic">p</tspan> for interaction = 0.018</text>
<line x1="536.70" y1="253.00" x2="684.50" y2="253.00" stroke="#e8e8e8" stroke-width="2.0" />
<path d="M541.70,188.40 C542.23,189.57 543.77,193.12 544.90,195.40 C546.03,197.68 547.30,199.93 548.50,202.10 C549.70,204.27 551.13,206.88 552.10,208.40 C553.07,209.93 553.33,210.43 554.30,211.25 C555.27,212.07 556.78,212.86 557.90,213.30 C559.02,213.74 559.88,213.68 561.00,213.90 C562.12,214.12 563.42,214.32 564.60,214.60 C565.78,214.88 566.92,215.15 568.10,215.60 C569.28,216.05 570.58,216.72 571.70,217.30 C572.82,217.88 573.77,218.50 574.80,219.10 C575.83,219.70 576.28,219.95 577.90,220.90 C579.52,221.85 581.92,223.33 584.50,224.80 C587.08,226.27 590.52,228.40 593.40,229.70 C596.28,231.00 599.38,231.90 601.80,232.60 C604.22,233.30 605.40,233.40 607.90,233.90 C610.40,234.40 613.83,235.07 616.80,235.60 C619.77,236.13 622.73,236.67 625.70,237.10 C628.67,237.53 630.25,237.73 634.60,238.20 C638.95,238.67 644.47,239.25 651.80,239.90 C659.13,240.55 674.13,241.73 678.60,242.10" fill="none" stroke="#838383" stroke-width="0.9" stroke-dasharray="1.8 1.9"/>
<path d="M541.70,241.90 C542.53,241.05 545.15,238.22 546.70,236.80 C548.25,235.38 549.47,234.27 551.00,233.40 C552.53,232.53 554.65,231.80 555.90,231.60 C557.15,231.40 557.17,231.62 558.50,232.20 C559.83,232.78 561.50,233.80 563.90,235.10 C566.30,236.40 570.52,238.52 572.90,240.00 C575.28,241.48 575.35,242.17 578.20,244.00 C581.05,245.83 586.55,248.93 590.00,251.00 C593.45,253.07 595.92,254.42 598.90,256.40 C601.88,258.38 604.92,260.77 607.90,262.90 C610.88,265.03 613.95,267.13 616.80,269.20 C619.65,271.27 621.40,272.73 625.00,275.30 C628.60,277.87 633.93,281.60 638.40,284.60 C642.87,287.60 647.33,290.42 651.80,293.30 C656.27,296.18 660.73,298.82 665.20,301.90 C669.67,304.98 676.37,310.15 678.60,311.80" fill="none" stroke="#838383" stroke-width="0.9" stroke-dasharray="1.8 1.9"/>
<path d="M541.30,217.62 L542.79,217.96 L544.28,218.33 L545.78,218.74 L547.27,219.18 L548.76,219.66 L550.25,220.16 L551.75,220.69 L553.24,221.25 L554.73,221.84 L556.22,222.45 L557.72,223.09 L559.21,223.74 L560.70,224.42 L562.19,225.11 L563.69,225.83 L565.18,226.56 L566.67,227.30 L568.16,228.06 L569.66,228.83 L571.15,229.61 L572.64,230.41 L574.13,231.21 L575.62,232.02 L577.12,232.84 L578.61,233.66 L580.10,234.49 L581.59,235.33 L583.09,236.17 L584.58,237.01 L586.07,237.85 L587.56,238.70 L589.06,239.54 L590.55,240.39 L592.04,241.23 L593.53,242.07 L595.03,242.91 L596.52,243.75 L598.01,244.59 L599.50,245.42 L601.00,246.25 L602.49,247.07 L603.98,247.89 L605.47,248.70 L606.97,249.50 L608.46,250.31 L609.95,251.10 L611.44,251.89 L612.93,252.67 L614.43,253.44 L615.92,254.21 L617.41,254.97 L618.90,255.72 L620.40,256.47 L621.89,257.20 L623.38,257.93 L624.87,258.66 L626.37,259.37 L627.86,260.08 L629.35,260.79 L630.84,261.48 L632.34,262.17 L633.83,262.85 L635.32,263.53 L636.81,264.20 L638.31,264.87 L639.80,265.53 L641.29,266.19 L642.78,266.84 L644.27,267.49 L645.77,268.14 L647.26,268.78 L648.75,269.42 L650.24,270.07 L651.74,270.71 L653.23,271.35 L654.72,271.99 L656.21,272.63 L657.71,273.28 L659.20,273.93 L660.69,274.58 L662.18,275.24 L663.68,275.90 L665.17,276.58 L666.66,277.25 L668.15,277.94 L669.65,278.64 L671.14,279.35 L672.63,280.07 L674.12,280.80 L675.62,281.55 L677.11,282.32 L678.60,283.10" fill="none" stroke="#ff3a3a" stroke-width="1.3" stroke-linejoin="round"/>
<rect x="536.7" y="183.6" width="147.79999999999995" height="134.70000000000002" fill="none" stroke="#858585" stroke-width="1.1"/>
<line x1="538.80" y1="318.70" x2="538.80" y2="320.70" stroke="#666" stroke-width="0.8" />
<text transform="translate(538.80,326.80) scale(0.2500)" font-size="15.60" font-weight="normal" text-anchor="middle" fill="#111" >0</text>
<line x1="573.92" y1="318.70" x2="573.92" y2="320.70" stroke="#666" stroke-width="0.8" />
<text transform="translate(573.92,326.80) scale(0.2500)" font-size="15.60" font-weight="normal" text-anchor="middle" fill="#111" >50</text>
<line x1="609.05" y1="318.70" x2="609.05" y2="320.70" stroke="#666" stroke-width="0.8" />
<text transform="translate(609.05,326.80) scale(0.2500)" font-size="15.60" font-weight="normal" text-anchor="middle" fill="#111" >100</text>
<line x1="644.17" y1="318.70" x2="644.17" y2="320.70" stroke="#666" stroke-width="0.8" />
<text transform="translate(644.17,326.80) scale(0.2500)" font-size="15.60" font-weight="normal" text-anchor="middle" fill="#111" >150</text>
<line x1="679.30" y1="318.70" x2="679.30" y2="320.70" stroke="#666" stroke-width="0.8" />
<text transform="translate(679.30,326.80) scale(0.2500)" font-size="15.60" font-weight="normal" text-anchor="middle" fill="#111" >200</text>
<line x1="534.30" y1="308.70" x2="536.30" y2="308.70" stroke="#666" stroke-width="0.8" />
<text transform="translate(530.90,308.70) rotate(-90) scale(0.25)" font-size="15.6" text-anchor="middle" fill="#111">0.6</text>
<line x1="534.30" y1="280.80" x2="536.30" y2="280.80" stroke="#666" stroke-width="0.8" />
<text transform="translate(530.90,280.80) rotate(-90) scale(0.25)" font-size="15.6" text-anchor="middle" fill="#111">0.8</text>
<line x1="534.30" y1="252.90" x2="536.30" y2="252.90" stroke="#666" stroke-width="0.8" />
<text transform="translate(530.90,252.90) rotate(-90) scale(0.25)" font-size="15.6" text-anchor="middle" fill="#111">1.0</text>
<line x1="534.30" y1="225.00" x2="536.30" y2="225.00" stroke="#666" stroke-width="0.8" />
<text transform="translate(530.90,225.00) rotate(-90) scale(0.25)" font-size="15.6" text-anchor="middle" fill="#111">1.2</text>
<line x1="534.30" y1="197.10" x2="536.30" y2="197.10" stroke="#666" stroke-width="0.8" />
<text transform="translate(530.90,197.10) rotate(-90) scale(0.25)" font-size="15.6" text-anchor="middle" fill="#111">1.4</text>
<text transform="translate(610.60,335.50) scale(0.2500)" font-size="14.80" font-weight="normal" text-anchor="middle" fill="#333" >Blood urea nitrogen (mg/dl)</text>
<text transform="translate(523.20,250.95) rotate(-90) scale(0.25)" font-size="15.04" text-anchor="middle" fill="#333">All-cause mortality HR(95%CI)</text>
<text transform="translate(672.00,194.90) scale(0.25)" font-size="19.2" text-anchor="end" fill="#3a3a3a"><tspan font-style="italic">p</tspan> for interaction = 0.002</text>
</svg>
</body></html>
